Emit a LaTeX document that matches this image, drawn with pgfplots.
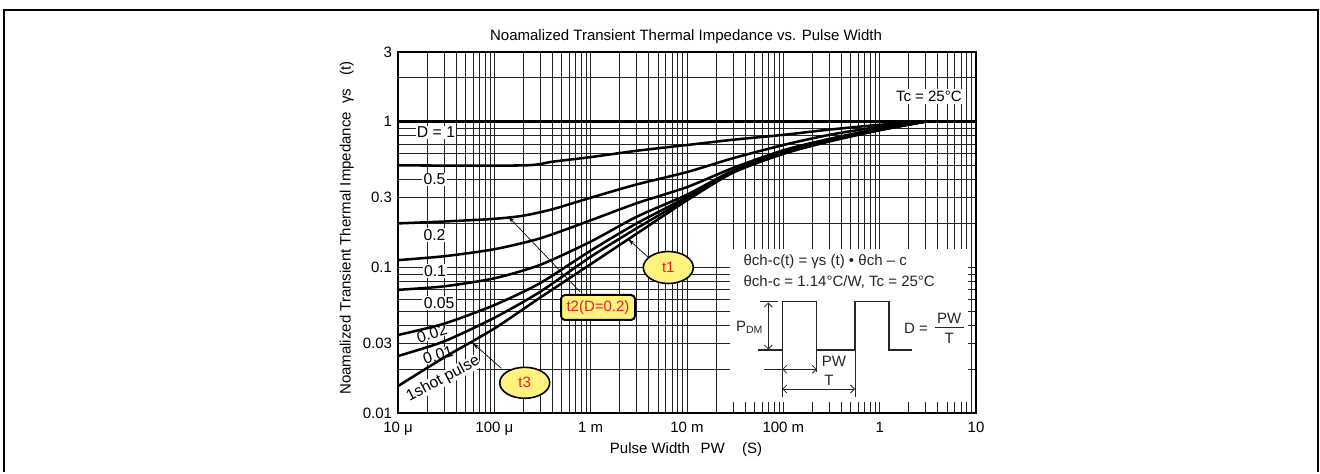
\documentclass[border=0pt]{standalone}
\usepackage{fontspec}
\setmainfont{Liberation Sans}
\usepackage{pgfplots}
\pgfplotsset{compat=1.18}
\usetikzlibrary{arrows.meta}

\definecolor{calloutfill}{RGB}{255,242,125}
\definecolor{calloutred}{RGB}{232,32,40}
\definecolor{gridcol}{RGB}{35,35,35}

\tikzset{
  lbl/.style={fill=white, inner sep=1pt, font=\fontsize{11.8}{14}\selectfont},
  pointer/.style={line width=0.5pt, -{Stealth[length=5pt,width=3pt]}},
  curve/.style={black, solid, line width=1.9pt, smooth, tension=0.45},
}

\begin{document}
\begin{tikzpicture}[font=\fontsize{11.25}{13.5}\selectfont]
% page = 1320 x 472 px, 1 px = 0.75pt
\path (0,0) rectangle (990pt,-354pt);

\begin{axis}[
  set layers,
  at={(298.5pt,-309.75pt)}, anchor=south west,
  width=433.5pt, height=270.75pt, scale only axis,
  xmode=log, ymode=log,
  xmin=1e-5, xmax=10, ymin=0.01, ymax=3,
  xtick={1e-5,1e-4,1e-3,1e-2,1e-1,1,10},
  xticklabels={10 μ,100 μ,1 m,10 m,100 m,1,10},
  minor xtick={2e-5,3e-5,4e-5,5e-5,6e-5,7e-5,8e-5,9e-5,
               2e-4,3e-4,4e-4,5e-4,6e-4,7e-4,8e-4,9e-4,
               2e-3,3e-3,4e-3,5e-3,6e-3,7e-3,8e-3,9e-3,
               0.02,0.03,0.04,0.05,0.06,0.07,0.08,0.09,
               0.2,0.3,0.4,0.5,0.6,0.7,0.8,0.9,
               2,3,4,5,6,7,8,9},
  ytick={0.01,0.03,0.1,0.3,1,3},
  yticklabels={0.01,0.03,0.1,0.3,1,3},
  minor ytick={0.02,0.04,0.05,0.06,0.07,0.08,0.09,
               0.2,0.4,0.5,0.6,0.7,0.8,0.9,2},
  grid=both,
  major grid style={gridcol, line width=0.55pt},
  minor grid style={gridcol, line width=0.55pt},
  major tick length=0pt, minor tick length=0pt,
  axis line style={black, line width=0.9pt},
  tick label style={font=\fontsize{11.25}{13.5}\selectfont},
  xticklabel style={yshift=-3.5pt},
  yticklabel style={xshift=-1pt},
]

% D = 1
\addplot[curve] coordinates {(1e-5,1) (10,1)};
% D = 0.5
\addplot[curve] coordinates {(1e-5,0.5) (2e-4,0.5) (4e-4,0.53) (1e-3,0.57) (3e-3,0.63)
  (1e-2,0.69) (3e-2,0.75) (0.1,0.81) (0.3,0.88) (1,0.95) (3,1)};
% D = 0.2
\addplot[curve] coordinates {(1e-5,0.2) (3e-5,0.206) (1e-4,0.215) (2e-4,0.226) (4e-4,0.25)
  (1e-3,0.30) (3e-3,0.37) (1e-2,0.45) (3e-2,0.56) (0.1,0.69) (0.3,0.81) (1,0.92) (3,1)};
% D = 0.1
\addplot[curve] coordinates {(1e-5,0.112) (3e-5,0.119) (1e-4,0.133) (3e-4,0.158) (1e-3,0.21)
  (3e-3,0.275) (1e-2,0.355) (3e-2,0.48) (0.1,0.635) (0.3,0.76) (1,0.895) (3,1)};
% D = 0.05
\addplot[curve] coordinates {(1e-5,0.070) (3e-5,0.074) (1e-4,0.084) (3e-4,0.104) (1e-3,0.15)
  (3e-3,0.222) (1e-2,0.315) (3e-2,0.46) (0.1,0.615) (0.3,0.745) (1,0.882) (3,1)};
% D = 0.02
\addplot[curve] coordinates {(1e-5,0.0343) (3e-5,0.041) (1e-4,0.055) (3e-4,0.078) (1e-3,0.13)
  (3e-3,0.2) (1e-2,0.303) (3e-2,0.455) (0.1,0.61) (0.3,0.74) (1,0.878) (3,1)};
% D = 0.01
\addplot[curve] coordinates {(1e-5,0.0246) (3e-5,0.031) (1e-4,0.045) (3e-4,0.068) (1e-3,0.118)
  (3e-3,0.185) (1e-2,0.295) (3e-2,0.45) (0.1,0.605) (0.3,0.735) (1,0.875) (3,1)};
% single pulse
\addplot[curve] coordinates {(1e-5,0.0153) (3e-5,0.024) (1e-4,0.038) (3e-4,0.062) (1e-3,0.105)
  (3e-3,0.17) (1e-2,0.288) (3e-2,0.445) (0.1,0.60) (0.3,0.73) (1,0.872) (3,1)};

% curve labels: above the grid, below the curves
\begin{pgfonlayer}{pre main}
\node[lbl] at (axis cs:2.48e-5,0.841) {D = 1};
\node[lbl] at (axis cs:2.39e-5,0.400) {0.5};
\node[lbl] at (axis cs:2.39e-5,0.1656) {0.2};
\node[lbl] at (axis cs:2.42e-5,0.0945) {0.1};
\node[lbl] at (axis cs:2.67e-5,0.0570) {0.05};
\node[lbl, inner sep=0pt, rotate=17] at (axis cs:2.25e-5,0.0350) {0.02};
\node[lbl, inner sep=0pt, rotate=18] at (axis cs:2.60e-5,0.0250) {0.01};
\node[lbl, inner sep=0pt, rotate=28] at (axis cs:2.95e-5,0.0171) {1shot pulse};
\node[lbl, inner sep=1.5pt, font=\fontsize{11.25}{13.5}\selectfont] at (axis cs:3.24,1.492) {Tc = 25°C};
\end{pgfonlayer}
\end{axis}

\begin{scope}[x=0.75pt, y=-0.75pt]
% frame
\draw[line width=1.6pt] (4,472) -- (4,10) -- (1318,10) -- (1318,472);
% title and axis labels
\node at (686,36.7) {Noamalized Transient Thermal Impedance vs. Pulse Width};
\node[rotate=90] at (346.7,228) {Noamalized Transient Thermal Impedance\hspace{6pt}γs\hspace{10pt}(t)};
\node at (686,450) {Pulse Width\hspace{8pt}PW\hspace{13pt}(S)};

% inset
\fill[white] (730,249) rectangle (967.5,402);
\begin{scope}[black!85]
\node[anchor=west, inner sep=0pt] at (743.3,261.7) {θch-c(t) = γs (t) • θch – c};
\node[anchor=west, inner sep=0pt] at (743.3,281.7) {θch-c = 1.14°C/W, Tc = 25°C};
\draw[line width=1pt] (758.3,350) -- (782.3,350) -- (782.3,301.7) -- (816.7,301.7)
  -- (816.7,350) -- (855,350) -- (855,301.7) -- (889,301.7) -- (889,350) -- (911.7,350);
\draw[line width=0.6pt] (760,301.7) -- (778.3,301.7);
\draw[line width=0.6pt, {Straight Barb[length=3pt]}-{Straight Barb[length=3pt]}]
  (768.3,302.5) -- (768.3,349.5);
\node at (749.5,327) {P\textsubscript{DM}};
\draw[line width=0.6pt] (782.3,350) -- (782.3,396.7);
\draw[line width=0.6pt] (816.7,350) -- (816.7,372);
\draw[line width=0.6pt] (855,350) -- (855,396.7);
\draw[line width=0.6pt] (764,369.3) -- (782.3,369.3);
\draw[line width=0.6pt, {Straight Barb[length=3pt]}-{Straight Barb[length=3pt]}]
  (782.3,369.3) -- (816.7,369.3);
\node at (834,361.7) {PW};
\draw[line width=0.6pt, {Straight Barb[length=3pt]}-{Straight Barb[length=3pt]}]
  (782.3,389) -- (855,389);
\node at (829,380.5) {T};
\node at (916,328.3) {D =};
\node at (949.3,318) {PW};
\draw[line width=0.6pt] (935,327.3) -- (964,327.3);
\node at (949.3,338.5) {T};
\end{scope}

% callouts
\draw[pointer] (648.3,257.3) -- (628.3,239.3);
\draw[pointer] (580,291.7) -- (508.3,216.7);
\draw[pointer] (501.3,368.3) -- (473,343.3);
\draw[fill=calloutfill, line width=1.2pt] (668.3,267.5) ellipse [x radius=25, y radius=16];
\node[text=calloutred] at (668.3,267.5) {t1};
\draw[fill=calloutfill, line width=1.2pt] (524.7,382.8) ellipse [x radius=25, y radius=15.5];
\node[text=calloutred] at (524.7,382.8) {t3};
\node[draw=black, line width=1.5pt, rounded corners=3pt, fill=calloutfill,
  text=calloutred, minimum width=55.5pt, minimum height=18.75pt, inner sep=1pt]
  at (598,307.5) {t2(D=0.2)};
\end{scope}
\end{tikzpicture}
\end{document}
